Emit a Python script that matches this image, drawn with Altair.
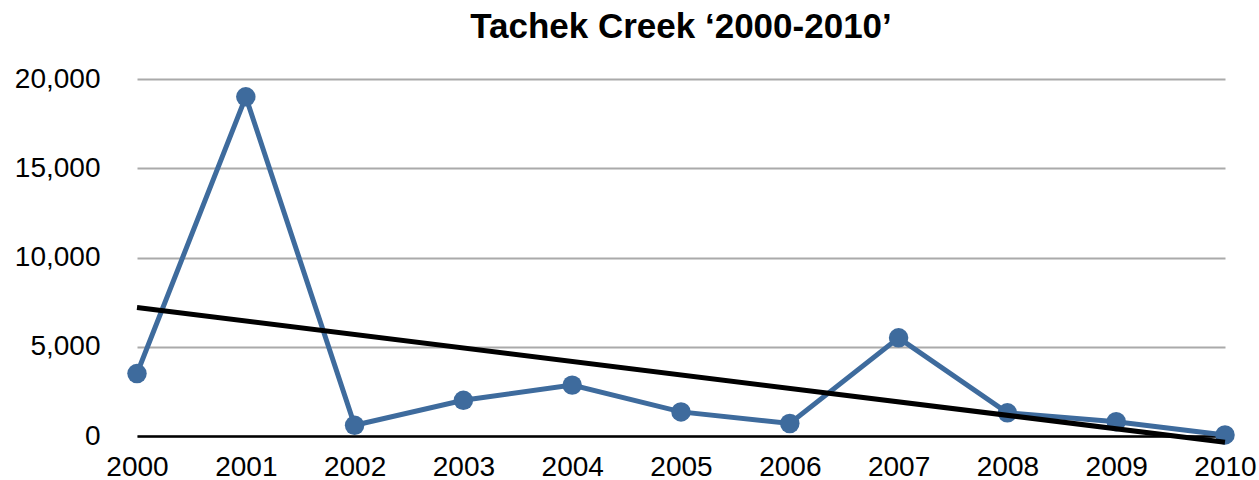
import altair as alt
import pandas as pd

# Yearly counts for Tachek Creek
years = [2000, 2001, 2002, 2003, 2004, 2005, 2006, 2007, 2008, 2009, 2010]
counts = [3500, 19000, 600, 2000, 2850, 1350, 700, 5500, 1300, 800, 60]
y_ticks = [0, 5000, 10000, 15000, 20000]

df = pd.DataFrame({"year": years, "count": counts})

FONT = "Liberation Sans"
BLUE = "#3e6b9d"

x_enc = alt.X(
    "year:Q",
    scale=alt.Scale(domain=[2000, 2010], nice=False, zero=False),
    axis=alt.Axis(
        values=years, labelExpr="format(datum.value, 'd')", title=None, grid=False, ticks=False,
        domain=True, domainColor="#000000", domainWidth=2.5,
        labelFont=FONT, labelFontSize=28, labelColor="#000000",
        labelPadding=17, labelBaseline="top", labelFlush=False,
    ),
)
y_enc = alt.Y(
    "count:Q",
    scale=alt.Scale(domain=[0, 20000], nice=False),
    axis=alt.Axis(
        values=y_ticks, labelExpr="format(datum.value, ',')", title=None, ticks=False, domain=False,
        grid=True, gridColor="#aaaaaa", gridWidth=2,
        labelFont=FONT, labelFontSize=28, labelColor="#000000",
        labelPadding=37,
    ),
)

series = alt.Chart(df).mark_line(
    color=BLUE, strokeWidth=5, point=alt.OverlayMarkDef(color=BLUE, size=380, filled=True, opacity=1)
).encode(x=x_enc, y=y_enc)

# least-squares trend over the decade
trend = alt.Chart(df).transform_regression(
    "year", "count", extent=[2000, 2010]
).mark_line(color="#000000", strokeWidth=5, clip=False).encode(x=x_enc, y=y_enc)

chart = alt.layer(series, trend).properties(
    width=1088,
    height=357,
    autosize=alt.AutoSizeParams(type="none"),
    padding={"left": 137, "top": 79, "right": 34, "bottom": 44},
    title=alt.TitleParams(
        "Tachek Creek \u20182000-2010\u2019",
        font=FONT, fontSize=35, fontWeight="bold", color="#000000",
        anchor="middle", offset=20,
    ),
).configure_view(stroke=None)

chart.save("out.html", embed_options={"renderer": "svg", "actions": False})
